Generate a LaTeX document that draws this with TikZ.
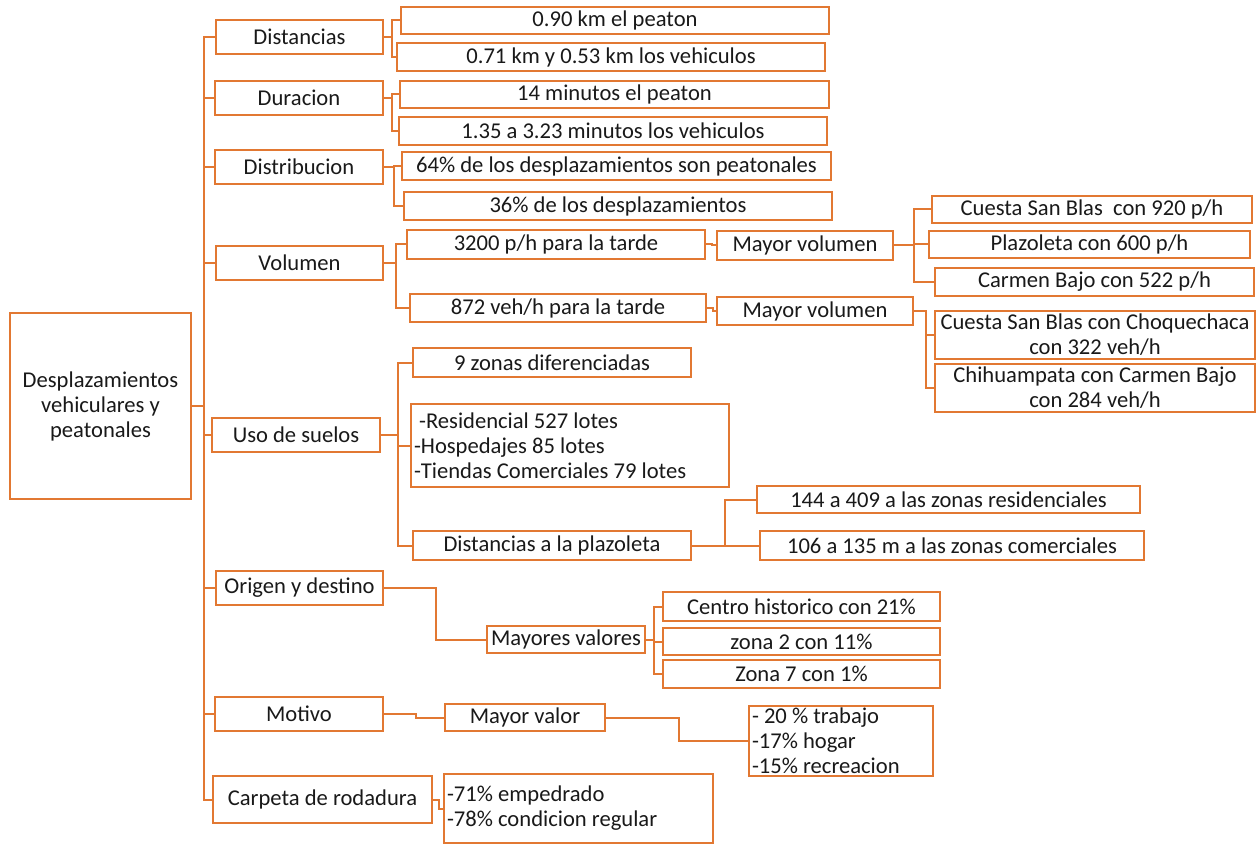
\documentclass[tikz,border=0pt]{standalone}
\usepackage{fontspec}
\setmainfont{Carlito}
\usepackage{tikz}
\definecolor{naranja}{RGB}{226,120,50}
\tikzset{
    caja/.style={rectangle,draw=naranja,line width=2pt,inner sep=0pt,align=center,
        font=\fontsize{22.6}{25}\selectfont,text=black!90},
    lista/.style={caja,align=flush left,inner xsep=3pt},
    enlace/.style={draw=naranja,line width=2pt}
}

\begin{document}
\begin{tikzpicture}[x=1pt,y=-1pt]
\useasboundingbox (0,0) rectangle (1256,845);
\begin{scope}[every node/.style={caja}]
\node[minimum width=181,minimum height=186] (0) at (100.5,406) {Desplazamientos\\vehiculares y\\peatonales};

\node[minimum width=167,minimum height=34] (1) at (299.5,37) {Distancias};
\node[minimum width=168,minimum height=34] (2) at (299,98) {Duracion};
\node[minimum width=168,minimum height=34] (3) at (299,167) {Distribucion};
\node[minimum width=167,minimum height=34] (4) at (299.5,263) {Volumen};
\node[minimum width=168,minimum height=34] (5) at (296,435) {Uso de suelos};
\node[minimum width=167,minimum height=34] (6) at (299.5,588) {Origen y destino};
\node[minimum width=168,minimum height=34] (7) at (299,714) {Motivo};
\node[minimum width=219,minimum height=47] (8) at (322.5,799.5) {Carpeta de rodadura};

\node[minimum width=428,minimum height=27] (11) at (615,20.5) {0.90 km el peaton};
\node[minimum width=428,minimum height=28] (12) at (611,57) {0.71 km y 0.53 km los vehiculos};
\node[minimum width=429,minimum height=27] (21) at (614.5,94.5) {14 minutos el peaton};
\node[minimum width=428,minimum height=28] (22) at (613,131) {1.35 a 3.23 minutos los vehiculos};
\node[minimum width=429,minimum height=28] (31) at (616.5,166) {64\% de los desplazamientos son peatonales};
\node[minimum width=428,minimum height=28] (32) at (618,206) {36\% de los desplazamientos};

\node[minimum width=298,minimum height=29] (41) at (556,244.5) {3200 p/h para la tarde};
\node[minimum width=296,minimum height=28] (42) at (558,308) {872 veh/h para la tarde};
\node[minimum width=176,minimum height=29] (411) at (805,245.5) {Mayor volumen};
\node[minimum width=196,minimum height=28] (421) at (815,311) {Mayor volumen};
\node[minimum width=320,minimum height=27] (4111) at (1092,209.5) {Cuesta San Blas\ \ con 920 p/h};
\node[minimum width=321,minimum height=27] (4112) at (1089.5,244.5) {Plazoleta con 600 p/h};
\node[minimum width=319,minimum height=28] (4113) at (1094.5,282) {Carmen Bajo con 522 p/h};
\node[minimum width=320,minimum height=48] (4211) at (1095,335) {Cuesta San Blas con Choquechaca\\con 322 veh/h};
\node[minimum width=320,minimum height=48] (4212) at (1095,388) {Chihuampata con Carmen Bajo\\con 284 veh/h};

\node[minimum width=278,minimum height=29] (51) at (552,362.5) {9 zonas diferenciadas};
\node[lista,text width=312,minimum height=83] (52) at (570,445.5) {\ -Residencial 527 lotes\\-Hospedajes 85 lotes\\-Tiendas Comerciales 79 lotes};
\node[minimum width=278,minimum height=29] (53) at (552,545.5) {Distancias a la plazoleta};
\node[minimum width=383,minimum height=27] (531) at (948.5,499.5) {144 a 409 a las zonas residenciales};
\node[minimum width=384,minimum height=29] (532) at (952,545.5) {106 a 135 m a las zonas comerciales};

\node[minimum width=158,minimum height=27] (61) at (566,639.5) {Mayores valores};
\node[minimum width=277,minimum height=29] (611) at (801.5,606.5) {Centro historico con 21\%};
\node[minimum width=277,minimum height=27] (612) at (801.5,641.5) {zona 2 con 11\%};
\node[minimum width=277,minimum height=28] (613) at (801.5,674) {Zona 7 con 1\%};

\node[minimum width=160,minimum height=27] (71) at (525,717.5) {Mayor valor};
\node[lista,text width=178,minimum height=70] (711) at (841,741) {- 20 \% trabajo\\-17\% hogar\\-15\% recreacion};

\node[lista,text width=263,minimum height=69] (81) at (578.5,808.5) {-71\% empedrado\\-78\% condicion regular};

\foreach \n in {1,...,8}
    \draw[enlace] (0.east) -- ++(12,0) |- (\n.west);
\draw[enlace] (1.east) -- ++(8,0) |- (11.west);
\draw[enlace] (1.east) -- ++(8,0) |- (12.west);
\draw[enlace] (2.east) -- ++(8,0) |- (21.west);
\draw[enlace] (2.east) -- ++(8,0) |- (22.west);
\draw[enlace] (3.east) -- ++(10,0) |- (31.west);
\draw[enlace] (3.east) -- ++(10,0) |- (32.west);
\draw[enlace] (4.east) -- ++(12,0) |- (41.west);
\draw[enlace] (4.east) -- ++(12,0) |- (42.west);
\draw[enlace] (41.east) -- ++(6,0) |- (411.west);
\draw[enlace] (42.east) -- ++(6,0) |- (421.west);
\draw[enlace] (411.east) -- ++(20,0) |- (4111.west);
\draw[enlace] (411.east) -- ++(20,0) |- (4112.west);
\draw[enlace] (411.east) -- ++(20,0) |- (4113.west);
\draw[enlace] (421.east) -- ++(12,0) |- (4211.west);
\draw[enlace] (421.east) -- ++(12,0) |- (4212.west);
\draw[enlace] (5.east) -- ++(17,0) |- (51.west);
\draw[enlace] (5.east) -- ++(17,0) |- (52.west);
\draw[enlace] (5.east) -- ++(17,0) |- (53.west);
\draw[enlace] (53.east) -- ++(33,0) |- (531.west);
\draw[enlace] (53.east) -- ++(33,0) |- (532.west);
\draw[enlace] (6.east) -- ++(52,0) |- (61.west);
\draw[enlace] (61.east) -- ++(8,0) |- (611.west);
\draw[enlace] (61.east) -- ++(8,0) |- (612.west);
\draw[enlace] (61.east) -- ++(8,0) |- (613.west);
\draw[enlace] (7.east) -- ++(32,0) |- (71.west);
\draw[enlace] (71.east) -- ++(73,0) |- (711.west);
\draw[enlace] (8.east) -- ++(6,0) |- (81.west);
\end{scope}
\end{tikzpicture}
\end{document}
